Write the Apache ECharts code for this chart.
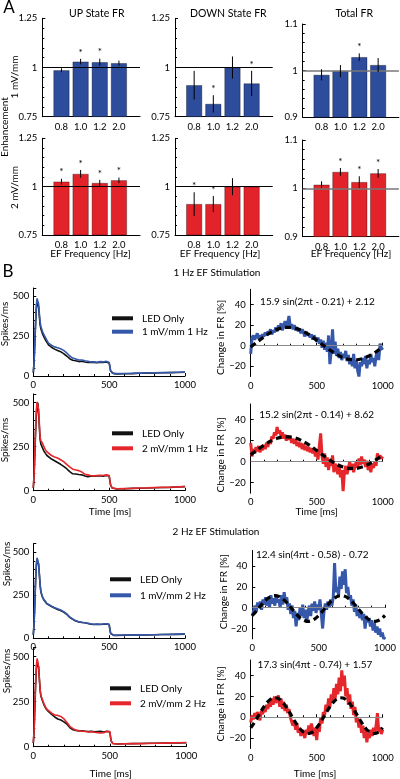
<!DOCTYPE html>
<html><head><meta charset="utf-8">
<script src="https://cdn.jsdelivr.net/npm/echarts@6/dist/echarts.min.js"></script>
<style>html,body{margin:0;padding:0;background:#fff}#c{width:400px;height:779px}</style>
</head><body><div id="c"></div>
<script>
// ---------- Panel A data ----------
const freqLabels = ['0.8', '1.0', '1.2', '2.0'];
const up1 = [0.986, 1.030, 1.027, 1.022];
const up1Err = [0.010, 0.014, 0.018, 0.013];
const up1Star = [0, 1, 1, 0];
const down1 = [0.910, 0.815, 1.000, 0.919];
const down1Err = [0.073, 0.044, 0.056, 0.064];
const down1Star = [0, 1, 0, 1];
const tot1 = [0.991, 0.999, 1.029, 1.012];
const tot1Err = [0.012, 0.013, 0.008, 0.015];
const tot1Star = [0, 0, 1, 0];
const up2 = [1.026, 1.066, 1.019, 1.033];
const up2Err = [0.015, 0.020, 0.016, 0.014];
const up2Star = [1, 1, 1, 1];
const down2 = [0.910, 0.910, 1.000, 1.000];
const down2Err = [0.061, 0.042, 0.044, 0.003];
const down2Star = [1, 1, 0, 0];
const tot2 = [1.0075, 1.034, 1.013, 1.031];
const tot2Err = [0.007, 0.008, 0.012, 0.009];
const tot2Star = [0, 1, 1, 1];

// ---------- Panel B: PSTH (spikes/ms) ----------
const tPsth = [0,5,10,15,20,25,30,35,40,45,50,60,70,80,90,100,120,140,160,180,200,220,240,260,280,300,320,340,360,380,400,420,440,460,480,490,500,505,510,520,530,550,600,650,700,750,800,850,900,950,1000];
const led1 = [20,80,200,320,420,470,480,430,370,320,295,265,245,225,210,195,180,168,160,152,140,125,108,98,95,90,92,88,85,84,85,83,86,84,88,90,82,55,30,18,15,13,14,15,17,18,19,20,21,22,23];
const ef1 = [25,90,220,340,440,485,495,450,390,340,310,280,258,240,222,205,192,182,176,170,160,145,125,112,106,100,100,95,92,88,88,86,90,88,92,93,85,58,32,19,16,15,16,17,18,19,20,21,22,23,24];
const led2 = [15,80,200,330,430,480,500,440,360,290,265,245,225,212,200,192,180,170,160,150,138,125,108,96,95,92,90,84,80,82,82,84,85,82,86,88,84,55,30,15,12,10,11,13,14,15,17,18,19,21,23];
const ef2 = [18,90,230,360,460,505,515,460,380,300,285,270,250,232,220,212,200,192,186,176,165,150,135,122,118,114,106,94,90,85,84,86,88,86,90,92,86,58,32,16,13,11,12,13,15,16,18,19,20,22,24];
const led3 = [20,80,200,330,420,460,465,430,370,310,270,240,222,212,200,192,185,176,168,162,152,140,122,110,100,95,92,90,86,82,80,82,80,82,84,86,80,50,28,18,17,17,18,19,20,20,21,22,22,23,24];
const ef3 = [22,85,210,340,430,468,470,432,372,312,272,242,225,214,202,195,187,178,172,165,155,142,124,112,102,96,93,90,87,84,82,83,82,83,85,87,81,52,29,19,18,18,19,19,20,21,21,22,23,24,25];
const led4 = [20,80,210,340,430,475,485,440,370,310,280,255,232,215,203,194,180,165,154,148,138,125,105,94,90,87,88,86,84,85,83,84,85,82,86,88,82,52,30,18,16,15,16,17,18,19,19,20,21,21,22];
const ef4 = [22,90,230,360,450,490,490,445,375,315,285,260,238,220,207,196,186,176,174,168,155,135,112,100,92,88,86,84,82,84,80,78,76,78,85,88,84,54,30,18,16,15,16,17,17,18,19,20,21,22,23];

// ---------- Panel B: change in FR (%), t = 0..1000 ms step 10 ----------
const tChg = Array.from({length: 101}, (_, i) => i * 10);
const chg1 = [-8,8,10,6,9,12,7,10,8,11, 9,13,10,14,12,16,11,15,13,18, 14,20,16,22,15,19,24,17,22,29, 18,21,16,20,15,18,14,17,12,16, 13,9,14,10,12,8,11,6,10,7, 4,8,2,6,-2,5,-4,3,-6,10, -18,-5,16,-8,4,-10,-3,-12,-6,-14, -8,-12,-5,-15,-9,-18,-12,-20,-8,-22, -14,-24,-30,-16,-20,-12,-18,-10,-22,-14, -18,-8,-16,-12,-20,-10,-6,-14,2,-2,-4];
const chg2 = [18,5,12,8,14,10,15,9,13,11, 16,12,18,14,20,17,24,22,28,25, 33,27,30,24,28,22,26,20,25,21, 24,18,22,17,21,15,19,14,18,12, 17,11,15,10,14,9,13,8,12,5, 10,2,15,27,6,-2,8,-5,4,-8, 2,-4,6,-10,-2,-6,-12,-3,-15,-8, -28,-10,-4,-12,-6,0,-8,-2,-10,-4, 0,-6,3,-3,5,-2,2,-5,1,-8, -3,-10,-2,-6,0,-4,8,2,6,3,5];
const chg3 = [-8,-3,2,-4,5,0,6,-2,8,3, 10,2,8,0,12,4,9,2,11,5, 8,0,12,3,15,6,10,-2,4,-6, 2,-10,-3,-18,-5,-12,0,-8,3,-10, -2,-14,-4,2,-8,4,-3,6,-5,3, -2,8,-6,-20,-4,4,-2,6,0,8, 2,10,43,15,20,12,30,18,35,22, 37,14,20,8,12,2,8,-4,3,-8, -2,-10,-4,-12,-6,-20,-8,-14,-10,-18, -12,-22,-15,-24,-18,-26,-20,-28,-24,-30,-28];
const chg4 = [-5,2,-2,4,0,5,2,-3,6,3, 8,5,12,8,15,10,18,12,20,14, 16,21,10,18,8,15,6,12,4,8, 0,-4,-8,-3,-12,-6,-15,-10,-18,-12, -15,-20,-12,-16,-8,-14,-6,-12,-18,-10, -22,-8,-14,0,-6,5,2,12,6,18, 10,22,15,28,18,32,22,38,25,45, 30,40,20,28,12,22,8,15,2,10, -5,0,-10,-4,-15,-8,-20,-12,-24,-15, -20,-12,-18,-10,-16,-8,4,-14,-10,-16,-12];

// sinusoid fit curves
const tFitA = Array.from({length: 21}, (_, i) => i * 50);
const fit1 = [-1.19,3.77,8.58,12.75,15.89,17.67,17.93,16.65,13.94,10.08,5.43,0.46,-4.34,-8.51,-11.65,-13.43,-13.69,-12.41,-9.70,-5.84,-1.19];
const fit2 = [6.50,11.25,15.75,19.55,22.28,23.67,23.59,22.04,19.17,15.29,10.74,5.99,1.49,-2.31,-5.04,-6.43,-6.35,-4.80,-1.93,1.95,6.50];
const tFitB = Array.from({length: 41}, (_, i) => i * 25);
const fit3 = [-7.52,-3.98,-0.12,3.68,7.04,9.65,11.24,11.67,10.87,8.93,6.08,2.54,-1.32,-5.12,-8.48,-11.09,-12.68,-13.11,-12.31,-10.37,
              -7.52,-3.98,-0.12,3.68,7.04,9.65,11.24,11.67,10.87,8.93,6.08,2.54,-1.32,-5.12,-8.48,-11.09,-12.68,-13.11,-12.31,-10.37,-7.52];
const fit4 = [-10.10,-5.58,-0.36,5.05,10.11,14.35,17.32,18.76,18.52,16.62,13.24,8.72,3.50,-1.91,-6.97,-11.21,-14.18,-15.62,-15.38,-13.48,
              -10.10,-5.58,-0.36,5.05,10.11,14.35,17.32,18.76,18.52,16.62,13.24,8.72,3.50,-1.91,-6.97,-11.21,-14.18,-15.62,-15.38,-13.48,-10.10];

const fitLabels = ['15.9 sin(2\u03C0t - 0.21) + 2.12', '15.2 sin(2\u03C0t - 0.14) + 8.62', '12.4 sin(4\u03C0t - 0.58) - 0.72', '17.3 sin(4\u03C0t - 0.74) + 1.57'];

// ---------- styling ----------
const FONT = 'Lato';
const BLUE = '#2d4c9c', RED = '#e3232a';
const LBLUE = '#3558aa', LRED = '#e5262b';
const ax = { lineStyle: { color: '#000', width: 1 } };

const chart = echarts.init(document.getElementById('c'), null, { renderer: 'canvas' });
const grids = [], xAxes = [], yAxes = [], series = [], graphics = [], legends = [];

function txt(text, x, y, size, rot) {
  graphics.push({
    type: 'text', x: x, y: y, rotation: rot || 0,
    style: { text: text, fill: '#000', font: (size || 10) + 'px ' + FONT, align: 'center', verticalAlign: 'middle' }
  });
}

function barPanel(g, vals, errs, stars, color, yMin, yMax, yInt, refColor, refWidth) {
  const i = grids.length;
  grids.push(g);
  xAxes.push({ gridIndex: i, type: 'value', min: 0, max: 5.1, interval: 1,
    axisLine: ax, axisTick: { show: false }, splitLine: { show: false },
    axisLabel: { showMaxLabel: false, showMinLabel: false, color: '#000', fontFamily: FONT, fontSize: 9.5, margin: 5,
      formatter: v => (v >= 1 && v <= 4 && Math.abs(v - Math.round(v)) < 1e-6) ? freqLabels[Math.round(v) - 1] : '' } });
  yAxes.push({ gridIndex: i, type: 'value', min: yMin, max: yMax, interval: yInt,
    axisLine: { show: true, lineStyle: { color: '#000', width: 1 } }, splitLine: { show: false },
    axisTick: { show: true, inside: true, length: 3, lineStyle: { color: '#000' } },
    minorTick: { show: true, splitNumber: 5, length: 2, lineStyle: { color: '#000' } },
    axisLabel: { color: '#000', fontFamily: FONT, fontSize: 9.5, margin: 5,
      formatter: v => Math.abs(v - 1) < 1e-9 ? '1' : String(+v.toFixed(2)) } });
  series.push({ type: 'bar', xAxisIndex: i, yAxisIndex: i, barWidth: 16, clip: true,
    itemStyle: { color: color, borderColor: 'rgba(0,0,0,0.55)', borderWidth: 0.6 },
    data: vals.map((v, k) => [k + 1, v]),
    markLine: { silent: true, symbol: 'none', label: { show: false },
      lineStyle: { color: refColor, width: refWidth, type: 'solid' }, data: [{ yAxis: 1 }] }, z: 2 });
  series.push({ type: 'custom', xAxisIndex: i, yAxisIndex: i, z: 5,
    renderItem: (p, api) => {
      const a = api.coord([api.value(0), api.value(1) + api.value(2)]);
      const b = api.coord([api.value(0), api.value(1) - api.value(2)]);
      return { type: 'line', shape: { x1: a[0], y1: a[1], x2: b[0], y2: b[1] }, style: { stroke: '#000', lineWidth: 1 } };
    },
    data: vals.map((v, k) => [k + 1, v, errs[k]]) });
  series.push({ type: 'custom', xAxisIndex: i, yAxisIndex: i, z: 6,
    renderItem: (p, api) => {
      const a = api.coord([api.value(0), api.value(1)]);
      return { type: 'text', x: a[0], y: a[1] - 1.5,
        style: { text: '*', fill: '#000', font: '10px ' + FONT, align: 'center', verticalAlign: 'bottom' } };
    },
    data: vals.map((v, k) => stars[k] ? [k + 1, v + errs[k]] : null).filter(d => d) });
}

function psthPanel(g, led, ef, efColor, efName, legendPos) {
  const i = grids.length;
  grids.push(g);
  xAxes.push({ gridIndex: i, type: 'value', min: 0, max: 1000, interval: 500,
    axisLine: ax, splitLine: { show: false },
    axisTick: { show: true, inside: true, length: 3, lineStyle: { color: '#000' } },
    minorTick: { show: true, splitNumber: 5, length: 2, lineStyle: { color: '#000' } },
    axisLabel: { color: '#000', fontFamily: FONT, fontSize: 9.5, margin: 4, formatter: v => String(v) } });
  yAxes.push({ gridIndex: i, type: 'value', min: 0, max: 550, interval: 250,
    axisLine: { show: true, lineStyle: { color: '#000', width: 1 } }, splitLine: { show: false },
    axisTick: { show: true, inside: true, length: 3, lineStyle: { color: '#000' } },
    minorTick: { show: true, splitNumber: 5, length: 2, lineStyle: { color: '#000' } },
    axisLabel: { color: '#000', fontFamily: FONT, fontSize: 9.5, margin: 4, showMaxLabel: false,
      formatter: v => (v % 250 === 0) ? String(v) : '' } });
  series.push({ type: 'line', name: 'LED Only', xAxisIndex: i, yAxisIndex: i, showSymbol: false, symbol: 'none',
    color: '#111', lineStyle: { color: '#111', width: 1.6 }, data: tPsth.map((t, k) => [t, led[k]]), z: 3 });
  series.push({ type: 'line', name: efName, xAxisIndex: i, yAxisIndex: i, showSymbol: false, symbol: 'none',
    color: efColor, lineStyle: { color: efColor, width: 1.6 }, data: tPsth.map((t, k) => [t, ef[k]]), z: 4 });
  legends.push({ data: ['LED Only', efName], orient: 'vertical', left: legendPos[0], top: legendPos[1],
    itemGap: legendPos[2], icon: 'rect', itemWidth: 21, itemHeight: 4, selectedMode: false,
    textStyle: { color: '#000', fontFamily: FONT, fontSize: 10, lineHeight: 12, padding: [0, 0, 0, 4] } });
}

function chgPanel(g, tr, trColor, tFit, fit) {
  const i = grids.length;
  grids.push(g);
  xAxes.push({ gridIndex: i, type: 'value', min: 0, max: 1000, interval: 500,
    axisLine: ax, splitLine: { show: false },
    axisTick: { show: true, inside: true, length: 3, lineStyle: { color: '#000' } },
    minorTick: { show: true, splitNumber: 5, length: 2, lineStyle: { color: '#000' } },
    axisLabel: { color: '#000', fontFamily: FONT, fontSize: 9.5, margin: 4, formatter: v => String(v) } });
  yAxes.push({ gridIndex: i, type: 'value', min: -30, max: 55,
    axisLine: { show: true, lineStyle: { color: '#000', width: 1 } }, splitLine: { show: false },
    axisTick: { show: true, inside: true, length: 3, customValues: [-20, 0, 20, 40], lineStyle: { color: '#000' } },
    axisLabel: { color: '#000', fontFamily: FONT, fontSize: 9.5, margin: 5, customValues: [-20, 0, 20, 40],
      formatter: v => v < 0 ? '\u2212' + Math.abs(v) : String(v) } });
  series.push({ type: 'line', xAxisIndex: i, yAxisIndex: i, showSymbol: false, symbol: 'none',
    lineStyle: { color: trColor, width: 3 }, data: tChg.map((t, k) => [t, tr[k]]), z: 3,
    markLine: { silent: true, symbol: 'none', label: { show: false },
      lineStyle: { color: '#8a8a8a', width: 1, type: 'solid' }, data: [{ yAxis: 0 }] } });
  series.push({ type: 'line', xAxisIndex: i, yAxisIndex: i, showSymbol: false, symbol: 'none', smooth: 0.3,
    lineStyle: { color: '#000', width: 3.2, type: [6, 4] }, data: tFit.map((t, k) => [t, fit[k]]), z: 5 });
}

// ---------- A: bar panels ----------
barPanel({ left: 42.3, top: 18.3, width: 97.7, height: 98.4 }, up1, up1Err, up1Star, BLUE, 0.75, 1.25, 0.25, '#000', 1);
barPanel({ left: 175, top: 18.3, width: 97.7, height: 98.4 }, down1, down1Err, down1Star, BLUE, 0.75, 1.25, 0.25, '#000', 1);
barPanel({ left: 302.7, top: 24, width: 98, height: 93.3 }, tot1, tot1Err, tot1Star, BLUE, 0.9, 1.1, 0.1, '#777', 1.6);
barPanel({ left: 42.3, top: 138.3, width: 97.7, height: 96.7 }, up2, up2Err, up2Star, RED, 0.75, 1.25, 0.25, '#000', 1);
barPanel({ left: 175, top: 138.3, width: 97.7, height: 96.7 }, down2, down2Err, down2Star, RED, 0.75, 1.25, 0.25, '#000', 1);
barPanel({ left: 302.7, top: 140, width: 98, height: 96.7 }, tot2, tot2Err, tot2Star, RED, 0.9, 1.1, 0.1, '#777', 1.6);

// ---------- B: PSTH panels ----------
psthPanel({ left: 33.3, top: 288, width: 151.7, height: 88 }, led1, ef1, LBLUE, '1 mV/mm 1 Hz', [107, 307.3, 1.4]);
psthPanel({ left: 33.3, top: 393.9, width: 151.7, height: 96.8 }, led2, ef2, LRED, '2 mV/mm 1 Hz', [107, 422.3, 3]);
psthPanel({ left: 33.3, top: 543.7, width: 151.7, height: 94.6 }, led3, ef3, LBLUE, '1 mV/mm 2 Hz', [105, 568.3, 4]);
psthPanel({ left: 33.3, top: 647.7, width: 153, height: 99 }, led4, ef4, LRED, '2 mV/mm 2 Hz', [105, 677.3, 3]);

// ---------- B: change in FR panels ----------
chgPanel({ left: 250.7, top: 289.3, width: 132, height: 87.2 }, chg1, LBLUE, tFitA, fit1);
chgPanel({ left: 250.7, top: 404, width: 132, height: 89.2 }, chg2, LRED, tFitA, fit2);
chgPanel({ left: 252.3, top: 550.5, width: 132.7, height: 88.4 }, chg3, LBLUE, tFitB, fit3);
chgPanel({ left: 250.7, top: 660, width: 132, height: 88.5 }, chg4, LRED, tFitB, fit4);

// ---------- texts ----------
txt('A', 9, 8, 17);
txt('B', 8, 272, 17);
txt('UP State FR', 96.7, 14, 10.5);
txt('DOWN State FR', 228.3, 14, 10.5);
txt('Total FR', 354.3, 14, 10.5);
txt('Enhancement', 5, 127, 10, Math.PI / 2);
txt('1 mV/mm', 15, 77, 10, Math.PI / 2);
txt('2 mV/mm', 15, 187.5, 10, Math.PI / 2);
txt('EF Frequency [Hz]', 90.5, 253.3, 10);
txt('EF Frequency [Hz]', 220, 253.3, 10);
txt('EF Frequency [Hz]', 351, 253.3, 10);
txt('1 Hz EF Stimulation', 217, 273, 10);
txt('2 Hz EF Stimulation', 216, 531.7, 10);
txt('Spikes/ms', 5, 324, 10, Math.PI / 2);
txt('Spikes/ms', 5, 440, 10, Math.PI / 2);
txt('Spikes/ms', 6.7, 564, 10, Math.PI / 2);
txt('Spikes/ms', 6.7, 671, 10, Math.PI / 2);
txt('Change in FR [%]', 220.7, 337.5, 10, Math.PI / 2);
txt('Change in FR [%]', 220.7, 455, 10, Math.PI / 2);
txt('Change in FR [%]', 224, 591.7, 10, Math.PI / 2);
txt('Change in FR [%]', 220.7, 704, 10, Math.PI / 2);
txt('Time [ms]', 110, 511.7, 10);
txt('Time [ms]', 316.7, 511.7, 10);
txt('Time [ms]', 110.7, 774, 10);
txt('Time [ms]', 315, 774, 10);
txt(fitLabels[0], 317.5, 301.7, 10);
txt(fitLabels[1], 316.7, 415, 10);
txt(fitLabels[2], 312.3, 554.3, 10);
txt(fitLabels[3], 315, 665, 10);

chart.setOption({
  animation: false,
  backgroundColor: '#fff',
  textStyle: { fontFamily: FONT },
  grid: grids.map(g => Object.assign({ containLabel: false, show: false }, g)),
  xAxis: xAxes, yAxis: yAxes, series: series, legend: legends,
  graphic: graphics
});
</script></body></html>
